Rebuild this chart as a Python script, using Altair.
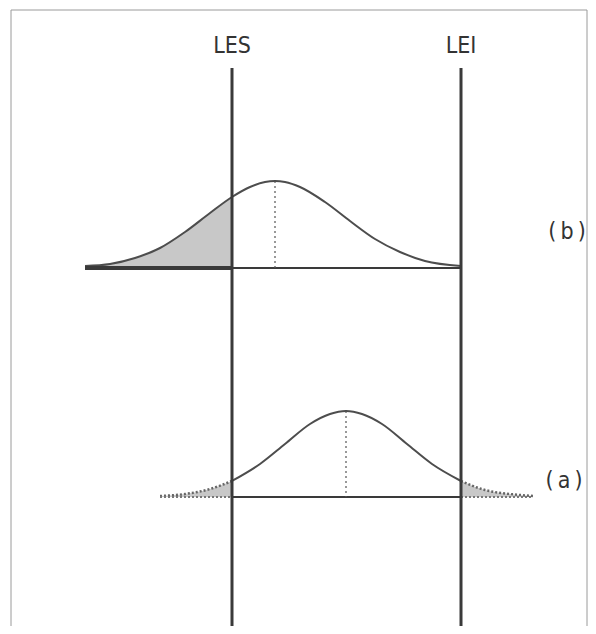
import altair as alt
import pandas as pd

# Diagram coordinates (x to the right, y downward as in the drawing)
# Curve (b): process shifted toward LES
b_x = [85, 110, 135, 160, 185, 210, 232, 250, 265, 275, 285, 300, 325, 350, 375, 400, 425, 461]
b_y = [266, 264, 258, 248, 232, 213, 197, 187, 182, 181, 182, 187, 202, 221, 239, 252, 261, 266]
b_base = 268
b_mean = 275

# Curve (a): centred process with both tails outside the limits
a_x = [160, 185, 210, 232, 260, 285, 310, 330, 346, 362, 382, 407, 432, 461, 485, 510, 533]
a_y = [496, 494, 489, 481, 464, 444, 424, 414, 411, 414, 424, 444, 464, 481, 490, 494, 496]
a_base = 497
a_mean = 346

limit_names = ["LES", "LEI"]
limit_x = [232, 461]
limit_top = 68
bottom = 626

curve_labels = ["(\u2009b\u2009)", "(\u2009a\u2009)"]
curve_label_x = [567, 564]
curve_label_y = [232, 481]

XS = alt.Scale(domain=[8, 588], nice=False, zero=False)
YS = alt.Scale(domain=[8, 626], reverse=True, nice=False, zero=False)


def X(f):
    return alt.X(f, type="quantitative", scale=XS, axis=None)


def Y(f):
    return alt.Y(f, type="quantitative", scale=YS, axis=None)


LINE = "#4d4d4d"
DARK = "#3a3a3a"
SHADE = "#c8c8c8"
FONT = "Liberation Sans Narrow, DejaVu Sans Condensed, sans-serif"

df_b = pd.DataFrame({"x": b_x, "y": b_y})
df_b["base"] = b_base
df_a = pd.DataFrame({"x": a_x, "y": a_y})
df_a["base"] = a_base

# frame
frame = pd.DataFrame({"x": [11, 11, 587], "x2": [11, 587, 587],
                      "y": [10, 10, 10], "y2": [bottom, 10, bottom]})
frame_layer = alt.Chart(frame).mark_rule(color="#9a9a9a", strokeWidth=1).encode(
    x=X("x"), x2="x2", y=Y("y"), y2="y2")

# shaded areas
area_b = alt.Chart(df_b[df_b.x <= limit_x[0]]).mark_area(
    color=SHADE, interpolate="monotone").encode(x=X("x"), y=Y("y"), y2="base")

left_a = df_a[df_a.x <= limit_x[0]].assign(seg="L")
right_a = df_a[df_a.x >= limit_x[1]].assign(seg="R")
tails_a = pd.concat([left_a, right_a])
area_a = alt.Chart(tails_a).mark_area(
    color=SHADE, interpolate="monotone").encode(
    x=X("x"), y=Y("y"), y2="base", detail="seg")

# curves
line_b = alt.Chart(df_b).mark_line(
    color=LINE, strokeWidth=2, interpolate="monotone").encode(x=X("x"), y=Y("y"))
mid_a = df_a[(df_a.x >= limit_x[0]) & (df_a.x <= limit_x[1])]
line_a = alt.Chart(mid_a).mark_line(
    color=LINE, strokeWidth=2, interpolate="monotone").encode(x=X("x"), y=Y("y"))
tail_line_a = alt.Chart(tails_a).mark_line(
    color="#666666", strokeWidth=2.5, strokeDash=[2, 2], interpolate="monotone").encode(
    x=X("x"), y=Y("y"), detail="seg")

# baselines
base_thick = pd.DataFrame({"x": [b_x[0]], "x2": [limit_x[0]], "y": [b_base]})
base_thin = pd.DataFrame({"x": [limit_x[0], limit_x[0]], "x2": [limit_x[1], limit_x[1]],
                          "y": [b_base, a_base]})
base_dot = pd.DataFrame({"x": [a_x[0], limit_x[1]], "x2": [limit_x[0], a_x[-1]],
                         "y": [a_base, a_base]})
bl1 = alt.Chart(base_thick).mark_rule(color=DARK, strokeWidth=4).encode(
    x=X("x"), x2="x2", y=Y("y"))
bl2 = alt.Chart(base_thin).mark_rule(color=DARK, strokeWidth=2).encode(
    x=X("x"), x2="x2", y=Y("y"))
bl3 = alt.Chart(base_dot).mark_rule(color="#777777", strokeWidth=2, strokeDash=[2, 2]).encode(
    x=X("x"), x2="x2", y=Y("y"))

# mean dotted lines
means = pd.DataFrame({"x": [b_mean, a_mean], "y": [min(b_y), min(a_y)], "y2": [b_base, a_base]})
mean_layer = alt.Chart(means).mark_rule(color="#555555", strokeWidth=1.2, strokeDash=[2, 3]).encode(
    x=X("x"), y=Y("y"), y2="y2")

# specification limits
lims = pd.DataFrame({"x": limit_x, "y": [limit_top] * 2, "y2": [bottom] * 2, "name": limit_names})
lim_layer = alt.Chart(lims).mark_rule(color=DARK, strokeWidth=3).encode(
    x=X("x"), y=Y("y"), y2="y2")
lim_text = alt.Chart(lims.assign(ty=46)).mark_text(
    font=FONT, fontSize=23, color="#333333", baseline="middle", align="center").encode(
    x=X("x"), y=Y("ty"), text="name")

labels = pd.DataFrame({"x": curve_label_x, "y": curve_label_y, "t": curve_labels})
lab_layer = alt.Chart(labels).mark_text(
    font=FONT, fontSize=23, color="#333333", baseline="middle", align="center").encode(
    x=X("x"), y=Y("y"), text="t")

chart = alt.layer(
    frame_layer, area_b, area_a, line_b, line_a, tail_line_a,
    bl1, bl2, bl3, mean_layer, lim_layer, lim_text, lab_layer
).properties(
    width=580, height=618, padding=0, autosize="none", background="white"
).configure_view(stroke=None)

chart.save("out.html", embed_options={"renderer": "svg", "actions": False})
